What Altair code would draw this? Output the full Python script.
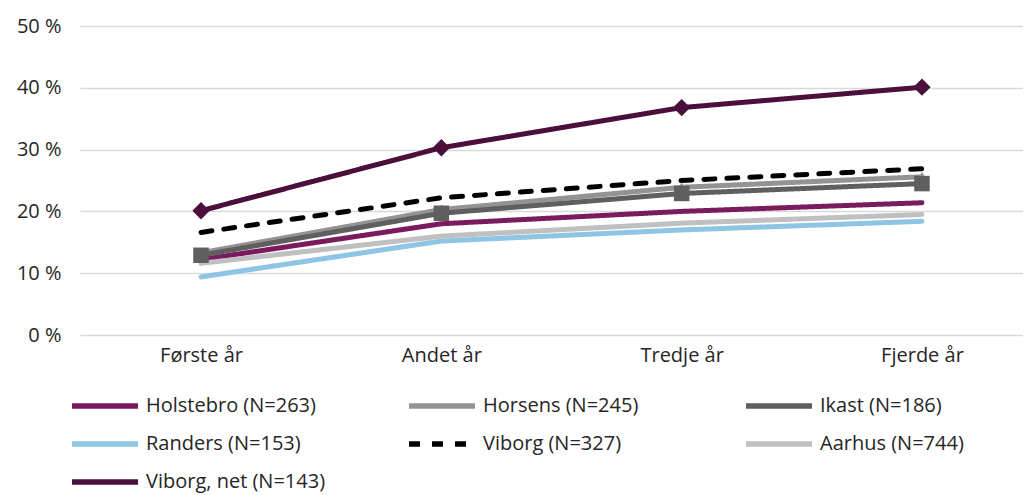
import altair as alt
import pandas as pd

years = ["Første år", "Andet år", "Tredje år", "Fjerde år"]
series = [
    "Holstebro (N=263)",
    "Horsens (N=245)",
    "Ikast (N=186)",
    "Randers (N=153)",
    "Viborg (N=327)",
    "Aarhus (N=744)",
    "Viborg, net (N=143)",
]
holstebro = [12.2, 18.0, 20.0, 21.4]
horsens = [13.3, 20.3, 23.9, 25.6]
ikast = [12.9, 19.7, 22.9, 24.5]
randers = [9.4, 15.2, 17.0, 18.4]
viborg = [16.6, 22.2, 25.0, 26.9]
aarhus = [11.6, 16.0, 18.1, 19.5]
viborg_net = [20.1, 30.3, 36.8, 40.1]

colors = ["#7b1a5e", "#939393", "#5f5f5f", "#8ec4e4", "#000000", "#c0c0c0", "#4b0f3b"]
dashes = [[1, 0], [1, 0], [1, 0], [1, 0], [11, 12], [1, 0], [1, 0]]
y_ticks = [0, 10, 20, 30, 40, 50]

rows = []
for name, vals in zip(series, [holstebro, horsens, ikast, randers, viborg, aarhus, viborg_net]):
    for yr, v in zip(years, vals):
        rows.append({"series": name, "year": yr, "value": v})
df = pd.DataFrame(rows)

FONT = "Open Sans"
TXT = "#262626"

x_enc = alt.X(
    "year:N",
    sort=years,
    scale=alt.Scale(type="point", padding=0.462, align=0.545),
    axis=alt.Axis(title=None, domain=False, ticks=False, grid=False, labelAngle=0,
                  labelPadding=10, labelFont=FONT, labelFontSize=20, labelColor=TXT),
)
y_enc = alt.Y(
    "value:Q",
    scale=alt.Scale(domain=[0, 50]),
    axis=alt.Axis(values=y_ticks, labelExpr="datum.value + ' %'", title=None, domain=False,
                  ticks=False, labelPadding=19, labelFont=FONT, labelFontSize=20,
                  labelColor=TXT, gridColor="#d9d9d9", gridWidth=1.5),
)

legend = alt.Legend(
    orient="none", legendX=-11, legendY=370, columns=3, direction="horizontal", title=None,
    clipHeight=20, rowPadding=18, columnPadding=80, gridAlign="all",
    labelFont=FONT, labelFontSize=20, labelColor=TXT, labelLimit=400, labelOffset=5,
    symbolType="stroke", symbolSize=4356, symbolStrokeWidth=5.5, padding=0,
)

base = alt.Chart(df)

lines = base.mark_line(strokeWidth=5, strokeCap="round", strokeJoin="round").encode(
    x=x_enc,
    y=y_enc,
    color=alt.Color("series:N", scale=alt.Scale(domain=series, range=colors), legend=legend),
    strokeDash=alt.StrokeDash("series:N", scale=alt.Scale(domain=series, range=dashes),
                              legend=legend),
)

tri = base.transform_filter(alt.datum.series == series[1]).mark_point(
    shape="triangle-up", filled=True, size=130, opacity=1, color=colors[1]
).encode(x=x_enc, y=y_enc)
sq = base.transform_filter(alt.datum.series == series[2]).mark_point(
    shape="square", filled=True, size=240, opacity=1, color=colors[2]
).encode(x=x_enc, y=y_enc)
dia = base.transform_filter(alt.datum.series == series[6]).mark_point(
    shape="diamond", filled=True, size=300, opacity=1, color=colors[6]
).encode(x=x_enc, y=y_enc)

chart = (
    alt.layer(lines, tri, sq, dia)
    .properties(
        width=943,
        height=309,
        autosize=alt.AutoSizeParams(type="none"),
        padding={"left": 72, "top": 18, "right": 0, "bottom": 160},
    )
    .configure_view(stroke=None)
)

chart.save("out.html", embed_options={"renderer": "svg", "actions": False})
